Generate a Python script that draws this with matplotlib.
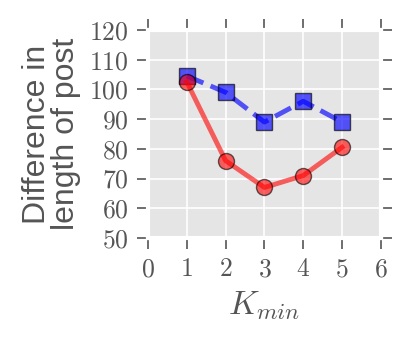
import matplotlib
matplotlib.use('Agg')
import matplotlib.pyplot as plt

GRAY_BG = '#e5e5e5'
TEXT = '#555555'

k_min = [1, 2, 3, 4, 5]
red_vals = [102.5, 76, 67, 71, 80.5]
blue_vals = [104.5, 99, 89, 96, 89]
x_ticks = [0, 1, 2, 3, 4, 5, 6]
y_ticks = [50, 60, 70, 80, 90, 100, 110, 120]

plt.rcParams['font.family'] = 'serif'
plt.rcParams['font.serif'] = ['cmr10']
plt.rcParams['mathtext.fontset'] = 'cm'
plt.rcParams['axes.formatter.use_mathtext'] = True

fig = plt.figure(figsize=(4.06, 3.4), dpi=100)
ax = fig.add_axes([0.3645, 0.30, 0.5735, 0.612])
ax.set_facecolor(GRAY_BG)

ax.plot(k_min, blue_vals, '--', color='blue', lw=3.5, alpha=0.65,
        marker='s', markersize=11.5, markeredgecolor='black', markeredgewidth=1, zorder=3)
ax.plot(k_min, red_vals, '-', color='red', lw=3.5, alpha=0.6,
        marker='o', markersize=11.5, markeredgecolor='black', markeredgewidth=1, zorder=4)

ax.set_xlim(0, 6)
ax.set_ylim(50, 120)
ax.set_xticks(x_ticks)
ax.set_yticks(y_ticks)
ax.grid(True, color='white', lw=1.2)
ax.set_axisbelow(True)
for s in ax.spines.values():
    s.set_color('white')
    s.set_linewidth(3)

ax.tick_params(direction='out', length=8, width=1.2, color=TEXT, labelcolor=TEXT,
               labelsize=18.5, top=True, right=True, pad=6)

ax.set_xlabel('$K_{min}$', fontsize=24, color=TEXT, labelpad=6)
ax.set_ylabel('Difference in\nlength of post', fontsize=23, color=TEXT,
              family='Liberation Sans', linespacing=0.95, labelpad=6)

fig.savefig('out.png', dpi=100)
